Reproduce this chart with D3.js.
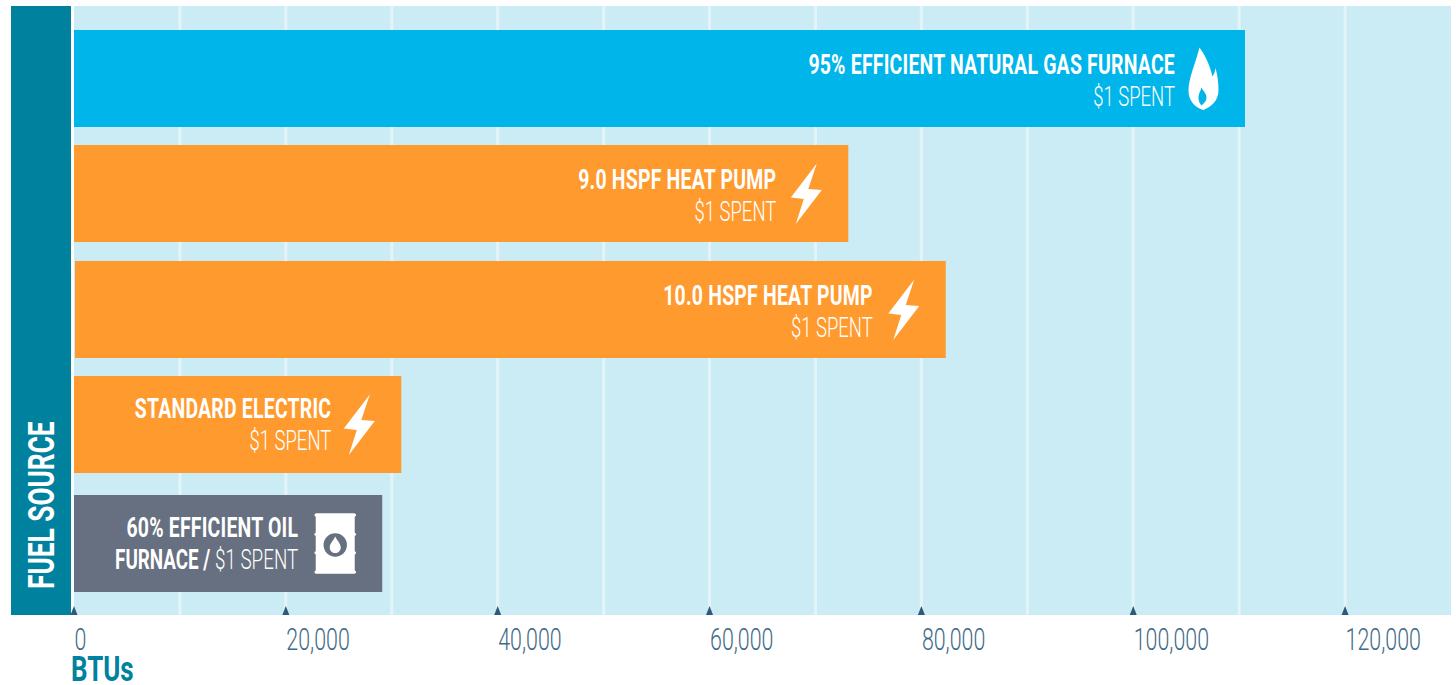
<!DOCTYPE html>
<html>
<head>
<meta charset="utf-8">
<script src="https://cdn.jsdelivr.net/npm/d3@7"></script>
<style>
  body { margin: 0; background: #fff; }
  text { font-family: Roboto, sans-serif; }
</style>
</head>
<body>
<div id="chart"></div>
<script>
var fuelKeys = ["gas", "pump9", "pump10", "electric", "oil"];
var btuValues = [110550, 73100, 82300, 30900, 29100];
var lineOneBold = ["95% EFFICIENT NATURAL GAS FURNACE", "9.0 HSPF HEAT PUMP", "10.0 HSPF HEAT PUMP", "STANDARD ELECTRIC", "60% EFFICIENT OIL"];
var lineTwoBold = ["", "", "", "", "FURNACE / "];
var lineTwoLight = ["$1 SPENT", "$1 SPENT", "$1 SPENT", "$1 SPENT", "$1 SPENT"];
var fuelTypes = ["gas", "electric", "electric", "electric", "oil"];
var axisTicks = [0, 20000, 40000, 60000, 80000, 100000, 120000];
var gridTicks = [10000, 20000, 30000, 40000, 50000, 60000, 70000, 80000, 90000, 100000, 110000, 120000];

var width = 1456, height = 685;
var margin = {top: 6, right: 5, bottom: 70, left: 74};

// the rows in the original are not quite evenly spaced
var rowNudge = [0, -1, -1, -3, 0];
var textInset = [70, 72, 73, 70, 84];
var textDrop = [44, 44, 44, 42, 42];

var svg = d3.select("#chart")
  .append("svg")
    .attr("width", width)
    .attr("height", height)
    .style("display", "block");

var x = d3.scaleLinear()
  .domain([0, 130000])
  .range([margin.left, margin.left + 1377]);

var y = d3.scaleBand()
  .domain(fuelKeys)
  .range([30, 592])
  .paddingInner(0.163);

var rowTop = function(d, i) { return Math.round(y(d)) + rowNudge[i] };

var colors = d3.scaleOrdinal()
  .domain(["gas", "electric", "oil"])
  .range(["#00b5ea", "#ff9a2e", "#667080"]);

// panel background
svg.append("rect")
  .attr("x", margin.left)
  .attr("y", margin.top)
  .attr("width", 1377)
  .attr("height", 609)
  .attr("fill", "#cbecf5");

// fuel source strip
svg.append("rect")
  .attr("x", 11)
  .attr("y", margin.top)
  .attr("width", 60)
  .attr("height", 609)
  .attr("fill", "#00829f");

svg.append("text")
  .attr("transform", "translate(54,589) rotate(-90) scale(0.71,1)")
  .attr("font-size", 37)
  .attr("font-weight", 700)
  .attr("fill", "#fff")
  .text("FUEL SOURCE");

// grid
svg.append("g").selectAll("line")
  .data(gridTicks)
  .join("line")
    .attr("x1", function(d) { return x(d) })
    .attr("x2", function(d) { return x(d) })
    .attr("y1", margin.top)
    .attr("y2", 615)
    .attr("stroke", "#e3f4f9")
    .attr("stroke-width", 3);

// bars
svg.append("g").selectAll("rect")
  .data(fuelKeys)
  .join("rect")
    .attr("x", function(d, i) { return x(0) + (i == 2 ? 1 : 0) })
    .attr("y", rowTop)
    .attr("width", function(d, i) { return x(btuValues[i]) - x(0) - (i == 2 ? 1 : 0) })
    .attr("height", 97)
    .attr("fill", function(d, i) { return colors(fuelTypes[i]) });

// labels
var labels = svg.append("g").selectAll("g")
  .data(fuelKeys)
  .join("g")
    .attr("transform", function(d, i) {
      return "translate(" + (x(btuValues[i]) - textInset[i]) + "," + rowTop(d, i) + ")";
    });

labels.append("text")
  .attr("transform", function(d, i) { return "translate(0," + textDrop[i] + ") scale(0.72,1)" })
  .attr("text-anchor", "end")
  .attr("font-size", 27)
  .attr("font-weight", 700)
  .attr("letter-spacing", 0.3)
  .attr("fill", "#fff")
  .text(function(d, i) { return lineOneBold[i] });

var secondLine = labels.append("text")
  .attr("transform", function(d, i) {
    return "translate(0," + (textDrop[i] + 32) + ") scale(" + (lineTwoBold[i] ? 0.697 : 0.685) + ",1)";
  })
  .attr("text-anchor", "end")
  .attr("font-size", 27)
  .attr("fill", "#fff");

secondLine.append("tspan")
  .attr("font-weight", 700)
  .text(function(d, i) { return lineTwoBold[i] });

secondLine.append("tspan")
  .attr("font-weight", 300)
  .text(function(d, i) { return lineTwoLight[i] });

// icons
var flame = "M-4,-31C1,-24 6,-15 9,-2C10.5,-4 11.5,-7 12,-10.5C14,-4 15,4 15,12C15,22 8,28 0,31.5C-8,29 -15,23 -15,12C-15,0 -8,-15 -4,-31Z"
  + "M-2,9C0,13 3,15 3,19C3,23 0,25 -2,27C-4,25 -5,22 -5,19C-5,15 -3,13 -2,9Z";
var bolt = "M10,-30L-16,4L-3,5.5L-11,30.5L15,-3.5L1.5,-4.5Z";

var icons = svg.append("g").selectAll("g")
  .data(fuelKeys)
  .join("g")
    .attr("transform", function(d, i) {
      var back = fuelTypes[i] == "oil" ? 47 : 41.5;
      return "translate(" + (x(btuValues[i]) - back) + "," + (rowTop(d, i) + 48.5) + ")";
    });

icons.filter(function(d, i) { return fuelTypes[i] == "gas" })
  .append("path")
    .attr("d", flame)
    .attr("fill", "#fff")
    .attr("fill-rule", "evenodd");

icons.filter(function(d, i) { return fuelTypes[i] == "electric" })
  .append("path")
    .attr("d", bolt)
    .attr("fill", "#fff");

var barrel = icons.filter(function(d, i) { return fuelTypes[i] == "oil" });
barrel.append("rect")
  .attr("x", -19.5).attr("y", -30)
  .attr("width", 39).attr("height", 60)
  .attr("fill", "#fff");
barrel.selectAll("rect.hoop")
  .data([-30, -10.7, 7.7, 27])
  .join("rect")
    .attr("class", "hoop")
    .attr("x", -20.8).attr("y", function(d) { return d })
    .attr("width", 41.6).attr("height", 3)
    .attr("rx", 1.5)
    .attr("fill", "#fff");
barrel.append("circle")
  .attr("cy", 1.5)
  .attr("r", 11.7)
  .attr("fill", "#667080");
barrel.append("path")
  .attr("d", "M0,-7C1.5,-3.5 5.5,0 5.5,4C5.5,7.5 3,9.5 0,9.5C-3,9.5 -5.5,7.5 -5.5,4C-5.5,0 -1.5,-3.5 0,-7Z")
  .attr("fill", "#fff");

// axis
var axis = svg.append("g")
  .attr("transform", "translate(0,615)")
  .call(d3.axisBottom(x).tickValues(axisTicks).tickSize(0).tickFormat(d3.format(",")));

axis.select(".domain").remove();

axis.selectAll("text")
  .attr("text-anchor", "start")
  .attr("font-size", 31)
  .attr("font-weight", 300)
  .attr("fill", "#3f6b88")
  .attr("y", 0)
  .attr("dy", null)
  .attr("transform", "translate(0,35) scale(0.69,1)")
  .style("font-family", "Roboto, sans-serif");

svg.append("g").selectAll("path")
  .data(axisTicks)
  .join("path")
    .attr("d", "M0,-9L3.5,0L-3.5,0Z")
    .attr("transform", function(d) { return "translate(" + x(d) + ",615)" })
    .attr("fill", "#2d5a78");

svg.append("text")
  .attr("transform", "translate(71,681) scale(0.72,1)")
  .attr("font-size", 36)
  .attr("font-weight", 700)
  .attr("fill", "#00829f")
  .text("BTUs");
</script>
</body>
</html>
